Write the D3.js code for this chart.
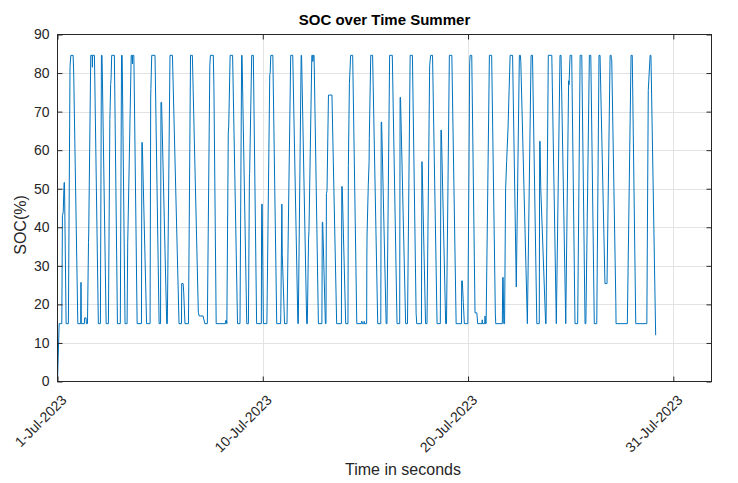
<!DOCTYPE html>
<html>
<head>
<meta charset="utf-8">
<script src="https://cdn.jsdelivr.net/npm/d3@7"></script>
<style>
  html, body { margin: 0; padding: 0; background: #ffffff; }
  svg { display: block; font-family: "Liberation Sans", Arial, Helvetica, sans-serif; }
</style>
</head>
<body>
<svg id="chart" width="738" height="483"></svg>
<script>
// Elapsed time in thousands of seconds since 1-Jul-2023 00:00
const timeKs = [
  0, 8, 21, 24, 28, 32, 34, 42, 53, 61, 65, 76, 79, 99, 113, 114, 115, 116, 131, 132,
  139, 141, 146, 151, 152, 162, 169, 170, 171, 180, 199, 209, 214, 217, 237, 248, 255, 256, 259, 261,
  264, 277, 292, 306, 312, 315, 329, 339, 342, 343, 359, 363, 365, 366, 372, 388, 409, 411, 413, 434,
  451, 454, 455, 459, 475, 495, 502, 504, 507, 532, 535, 548, 560, 592, 604, 605, 612, 615, 621, 638,
  648, 657, 686, 690, 709, 718, 730, 742, 745, 759, 762, 773, 818, 819, 823, 825, 832, 834, 841, 853,
  877, 889, 897, 899, 922, 930, 935, 936, 946, 954, 970, 993, 994, 995, 997, 1003, 1020, 1034, 1036, 1039,
  1049, 1068, 1087, 1088, 1093, 1095, 1106, 1118, 1136, 1146, 1171, 1173, 1187, 1189, 1214, 1217, 1223, 1225, 1239, 1243,
  1244, 1246, 1250, 1271, 1288, 1290, 1292, 1305, 1308, 1310, 1313, 1320, 1337, 1360, 1383, 1385, 1387, 1404, 1415, 1417,
  1422, 1428, 1438, 1458, 1480, 1481, 1484, 1485, 1493, 1494, 1496, 1506, 1507, 1508, 1514, 1518, 1519, 1526, 1535, 1560,
  1575, 1577, 1579, 1601, 1605, 1618, 1631, 1654, 1667, 1669, 1671, 1696, 1705, 1718, 1729, 1747, 1750, 1773, 1775, 1776,
  1793, 1800, 1813, 1818, 1827, 1849, 1865, 1868, 1870, 1891, 1895, 1909, 1921, 1942, 1968, 1969, 1972, 1977, 1982, 1999,
  2008, 2010, 2018, 2034, 2043, 2047, 2068, 2069, 2071, 2081, 2083, 2085, 2088, 2104, 2115, 2133, 2135, 2167, 2169, 2171,
  2174, 2178, 2183, 2188, 2195, 2200, 2205, 2217, 2235, 2250, 2255, 2257, 2289, 2307, 2314, 2335, 2347, 2349, 2351, 2354,
  2378, 2380, 2391, 2408, 2430, 2448, 2453, 2476, 2490, 2492, 2497, 2505, 2521, 2534, 2546, 2554, 2570, 2574, 2591, 2598,
  2615, 2627, 2638, 2643, 2667, 2677, 2692, 2697, 2698, 2700, 2720, 2721, 2776, 2794, 2800, 2817, 2871, 2878, 2887, 2891,
  2914
];

// Battery state of charge (%)
const socPct = [
  0, 15, 15, 43, 44, 51.6, 51.6, 15, 15, 81.7, 84.6, 84.6, 80, 15, 15, 25.7, 25.7, 15, 15, 16.5,
  16.5, 15, 15, 36, 38, 84.6, 84.6, 81.5, 84.6, 84.6, 15, 15, 84.6, 84.6, 15, 15, 68, 70, 77, 78.5,
  84.6, 84.6, 15, 15, 84.6, 84.6, 15, 15, 36, 38.5, 84.6, 84.6, 82.4, 84.6, 84.6, 15, 15, 62, 62, 15,
  15, 73.5, 76, 84.6, 84.6, 15, 15, 72.4, 72.4, 15, 15, 84.6, 84.6, 15, 15, 25.4, 25.4, 23, 15, 15,
  84.6, 84.6, 18, 17, 17, 15, 15, 82, 84.6, 84.6, 76.5, 15, 15, 15.8, 15.8, 15, 64.7, 66, 84.6, 84.6,
  15, 15, 84.6, 84.6, 15, 15, 53, 54, 84.6, 84.6, 15, 15, 38, 46, 46, 15, 15, 79.6, 80, 84.6,
  84.6, 15, 15, 17.7, 46, 33, 15, 15, 84.6, 84.6, 15, 15, 84.6, 84.6, 15, 15, 37, 39, 84.6, 84.6,
  83, 84.6, 84.6, 15, 15, 41.3, 41.3, 15, 15, 48.7, 49.5, 74.3, 74.3, 15, 15, 50.6, 50.6, 15, 15, 56,
  77.3, 84.6, 84.6, 15, 15, 15.6, 15.6, 15, 15, 15.6, 15, 15, 32, 38, 51, 57, 63, 84.6, 84.6, 15,
  15, 67.3, 67.3, 15, 15, 84.6, 84.6, 15, 15, 73.7, 73.7, 15, 15, 84.6, 84.6, 17.7, 15, 15, 57, 57,
  15, 15, 82, 84.6, 84.6, 15, 15, 65.2, 65.2, 15, 15, 84.6, 84.6, 15, 15, 26.1, 26.1, 20.5, 15, 15,
  82.8, 84.6, 84.6, 17.8, 17.8, 15, 15, 16, 15, 15, 17, 15, 15, 84.6, 84.6, 17.5, 15, 15, 27, 27,
  15, 15, 50, 57, 66, 75.5, 84.6, 84.6, 24.5, 84.6, 84.6, 83, 15, 84.6, 84.6, 15, 15, 62.3, 62.3, 50.5,
  15, 15, 84.6, 84.6, 15, 84.6, 84.6, 15, 78, 77, 84.6, 84.6, 15, 15, 84.6, 84.6, 15, 15, 84.6, 84.6,
  15, 15, 84.6, 84.6, 25.4, 25.4, 84.6, 84.6, 83.5, 83.5, 20.5, 15, 15, 84.6, 84.6, 15, 15, 75.5, 84.6, 84.6,
  12
];

// Axis ticks and labels
const xTickKs = [0, 1000, 2000, 3000];
const xTickLabels = ["1-Jul-2023", "10-Jul-2023", "20-Jul-2023", "31-Jul-2023"];
const yTickValues = [0, 10, 20, 30, 40, 50, 60, 70, 80, 90];

const titleText = "SOC over Time Summer";
const xLabelText = "Time in seconds";
const yLabelText = "SOC(%)";

const svg = d3.select("#chart");
const plotLeft = 57.5, plotRight = 711.5, plotTop = 34.5, plotBottom = 381.5;
const axisColor = "#262626";

const x = d3.scaleLinear().domain([0, 3186]).range([plotLeft, plotRight]);
const y = d3.scaleLinear().domain([0, 90]).range([plotBottom, plotTop]);

// grid
const grid = svg.append("g").attr("stroke", "#e3e3e3").attr("stroke-width", 1);
grid.selectAll("line.h").data(yTickValues.slice(1, -1)).join("line")
  .attr("x1", plotLeft).attr("x2", plotRight)
  .attr("y1", d => Math.round(y(d)) + 0.5).attr("y2", d => Math.round(y(d)) + 0.5);
grid.selectAll("line.v").data(xTickKs.slice(1)).join("line")
  .attr("y1", plotTop).attr("y2", plotBottom)
  .attr("x1", d => Math.round(x(d)) + 0.5).attr("x2", d => Math.round(x(d)) + 0.5);

// data line
const line = d3.line().x((d, i) => x(timeKs[i])).y(d => y(d));
svg.append("path")
  .datum(socPct)
  .attr("fill", "none")
  .attr("stroke", "#0072BD")
  .attr("stroke-width", 1)
  .attr("stroke-linejoin", "round")
  .attr("d", line);

// axes (ticks point inward, box on all sides)
const styleAxis = g => {
  g.selectAll(".domain").remove();
  g.selectAll(".tick line").attr("stroke", axisColor);
  g.selectAll(".tick text").attr("fill", axisColor).attr("font-size", "14px");
};

svg.append("g").attr("transform", `translate(${plotLeft},0)`)
  .call(d3.axisLeft(y).tickValues(yTickValues).tickSize(-5).tickPadding(8).tickFormat(d3.format("d")))
  .call(styleAxis);

svg.append("g").attr("transform", `translate(${plotRight},0)`)
  .call(d3.axisRight(y).tickValues(yTickValues).tickSize(-5).tickFormat(""))
  .call(styleAxis);

svg.append("g").attr("transform", `translate(0,${plotTop})`)
  .call(d3.axisTop(x).tickValues(xTickKs).tickSize(-5).tickFormat(""))
  .call(styleAxis);

const xAxis = svg.append("g").attr("transform", `translate(0,${plotBottom})`)
  .call(d3.axisBottom(x).tickValues(xTickKs).tickSize(-5).tickFormat((d, i) => xTickLabels[i]))
  .call(styleAxis);
xAxis.selectAll(".tick text")
  .attr("text-anchor", "end")
  .attr("dy", "0.35em")
  .attr("transform", "translate(4,14) rotate(-45)");

// box
svg.append("rect")
  .attr("x", plotLeft).attr("y", plotTop)
  .attr("width", plotRight - plotLeft).attr("height", plotBottom - plotTop)
  .attr("fill", "none").attr("stroke", axisColor).attr("stroke-width", 1);

// labels
svg.append("text")
  .attr("x", (plotLeft + plotRight) / 2).attr("y", 25)
  .attr("text-anchor", "middle")
  .attr("font-size", "15px").attr("font-weight", "bold").attr("fill", "#000")
  .text(titleText);

svg.append("text")
  .attr("x", 403).attr("y", 475)
  .attr("text-anchor", "middle")
  .attr("font-size", "16px").attr("fill", axisColor)
  .text(xLabelText);

svg.append("text")
  .attr("transform", "translate(26,225) rotate(-90)")
  .attr("text-anchor", "middle")
  .attr("font-size", "16px").attr("fill", axisColor)
  .text(yLabelText);
</script>
</body>
</html>
